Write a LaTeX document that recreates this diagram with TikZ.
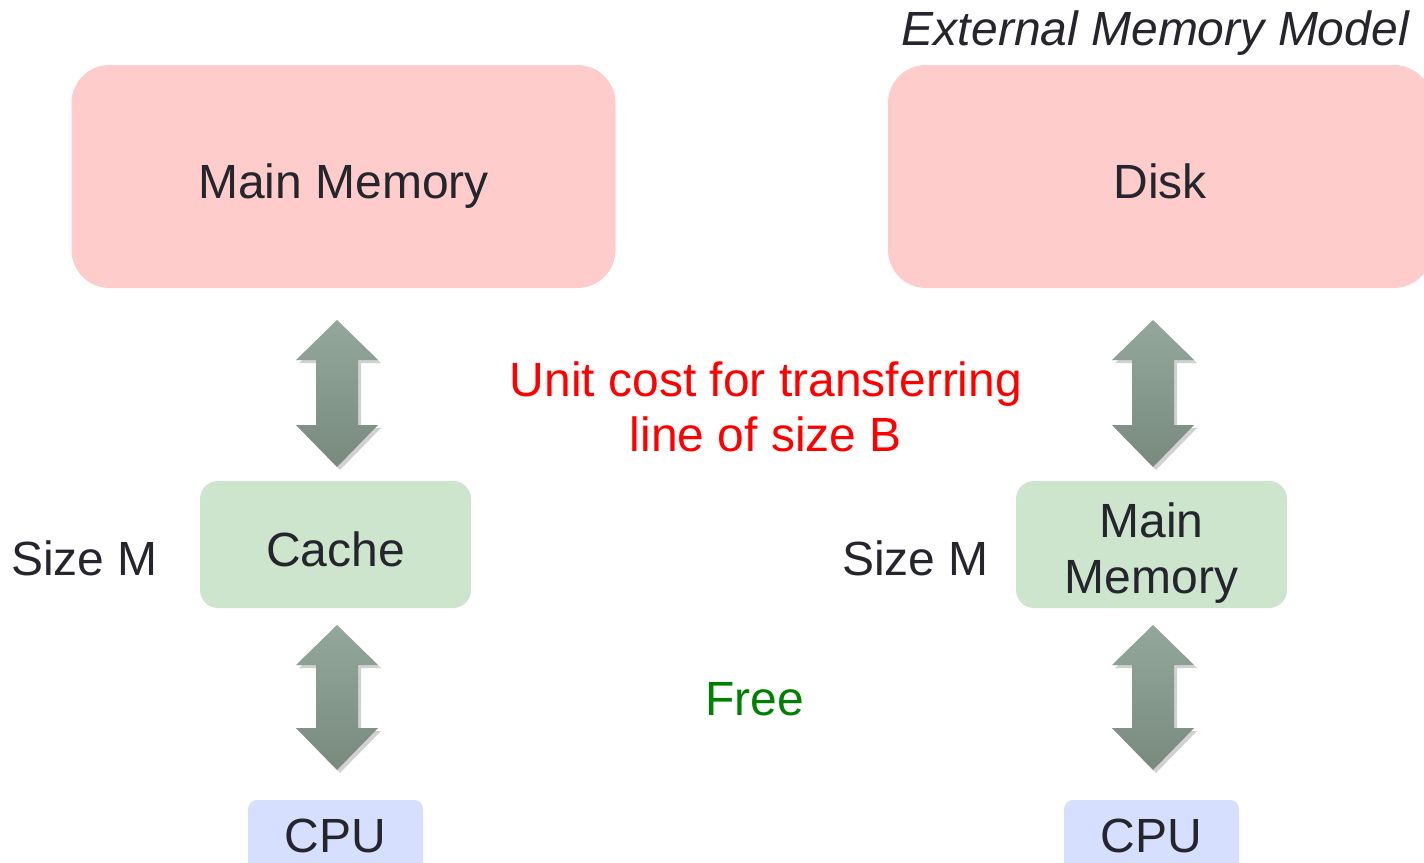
\documentclass[tikz,border=0pt]{standalone}
\usepackage{fontspec}
\setmainfont{Liberation Sans}
\begin{document}
\begin{tikzpicture}[x=1pt,y=-1pt,
  txt/.style={inner sep=0pt, text=textc, font=\fontsize{48}{58}\selectfont},
  pinkbox/.style={fill=pinkc, draw=none, rounded corners=38pt, minimum width=544pt, minimum height=223pt, inner sep=0pt},
  greenbox/.style={fill=greenc, draw=none, rounded corners=18pt, minimum width=271pt, minimum height=127pt, inner sep=0pt},
  cpubox/.style={fill=bluec, draw=none, rounded corners=9pt, minimum width=175pt, minimum height=76pt, inner sep=0pt}]
\definecolor{pinkc}{HTML}{FFCCCC}
\definecolor{greenc}{HTML}{CCE5CC}
\definecolor{bluec}{HTML}{D6E0FE}
\definecolor{textc}{HTML}{25252D}
\definecolor{arrtop}{HTML}{93A89A}
\definecolor{arrbot}{HTML}{788A7E}
\useasboundingbox (0,0) rectangle (1424,862);
\clip (0,0) rectangle (1424,862);
\newcommand\dblarr[3]{%
  \fill[black,opacity=0.18] (#1+3,#2+3) -- (#1+44,#2+43) -- (#1+24,#2+43) -- (#1+24,#3-39) -- (#1+44,#3-39) -- (#1+3,#3+3) -- (#1-38,#3-39) -- (#1-18,#3-39) -- (#1-18,#2+43) -- (#1-38,#2+43) -- cycle;
  \shade[top color=arrtop, bottom color=arrbot] (#1,#2) -- (#1+41,#2+40) -- (#1+21,#2+40) -- (#1+21,#3-42) -- (#1+41,#3-42) -- (#1,#3) -- (#1-41,#3-42) -- (#1-21,#3-42) -- (#1-21,#2+40) -- (#1-41,#2+40) -- cycle;}
% boxes
\node[pinkbox] (mm) at (343.5,176.5) {};
\node[pinkbox] (disk) at (1160,176.5) {};
\node[greenbox] (cache) at (335.5,544.5) {};
\node[greenbox] (mm2) at (1151.5,544.5) {};
\node[cpubox] (cpu1) at (335.5,838) {};
\node[cpubox] (cpu2) at (1151.5,838) {};
% labels
\node[txt, anchor=base] (mmt) at (343.5,198) {Main Memory};
\node[txt, anchor=base] (diskt) at (1160,198) {Disk};
\node[txt, anchor=base] (cachet) at (335.5,566) {Cache};
\node[txt, anchor=base] (mm2a) at (1151.5,537) {Main};
\node[txt, anchor=base] (mm2b) at (1151.5,593) {Memory};
\node[txt, anchor=base] (cpu1t) at (335.5,852) {CPU};
\node[txt, anchor=base] (cpu2t) at (1151.5,852) {CPU};
\node[txt, anchor=base west] (size1) at (11,575) {Size M};
\node[txt, anchor=base east] (size2) at (989,575) {Size M};
\node[txt, anchor=base east, font=\fontsize{48}{58}\selectfont\itshape] (ext) at (1409,45) {External Memory Model};
\node[txt, anchor=base, text=red] (unit1) at (766,396) {Unit cost for transferring};
\node[txt, anchor=base, text=red] (unit2) at (766,451) {line of size B};
\node[txt, anchor=base, text={rgb,255:red,0;green,128;blue,0}] (free) at (755,715) {Free};
% arrows
\dblarr{337}{320}{467}
\dblarr{337}{625}{770}
\dblarr{1153}{320}{467}
\dblarr{1153}{625}{770}
\end{tikzpicture}
\end{document}
